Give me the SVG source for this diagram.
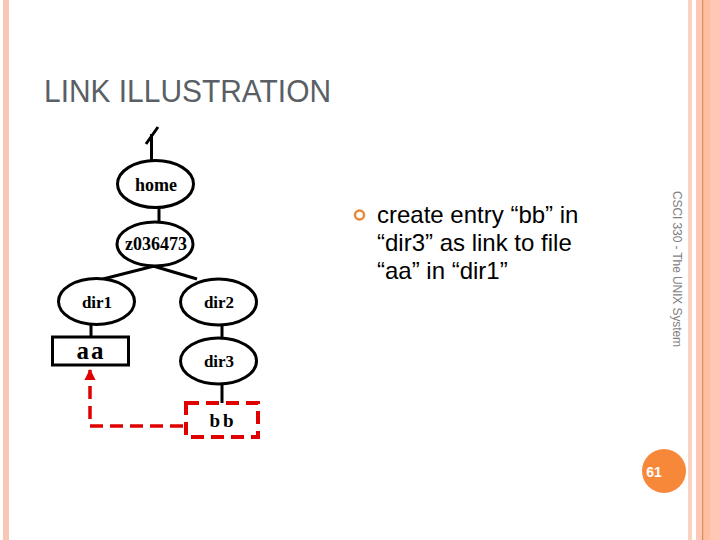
<svg xmlns="http://www.w3.org/2000/svg" width="720" height="540" viewBox="0 0 720 540">
<style>
.node{fill:#fff;stroke:#000;stroke-width:3}
.lbl{font-family:"Liberation Serif","Times New Roman",serif;font-weight:bold;font-size:17px;fill:#000;text-anchor:middle}
.edge{stroke:#000;stroke-width:3;fill:none}
.link{stroke:#E00000;stroke-width:3.5;fill:none;stroke-dasharray:13 7}
</style>
<defs>
<marker id="ah" viewBox="0 0 10 10" refX="9" refY="5" markerWidth="3.2" markerHeight="3.2" orient="auto" markerUnits="strokeWidth">
<path d="M0,0 L10,5 L0,10 z" fill="#E00000"/>
</marker>
</defs>
<rect width="720" height="540" fill="#fff"/>
<!-- borders -->
<rect x="3" y="0" width="6" height="540" fill="#F8C8B4"/>
<rect x="688" y="0" width="4" height="540" fill="#F9D2C0"/>
<rect x="696" y="0" width="24" height="540" fill="#FFC8B6"/>
<rect x="702" y="0" width="8" height="540" fill="#FFBE9F"/>
<rect x="702" y="0" width="1.2" height="540" fill="#D98A60"/>

<text x="44" y="102" font-family="Liberation Sans, Arial, sans-serif" font-size="31" fill="#5A5F66" textLength="287" lengthAdjust="spacingAndGlyphs">LINK ILLUSTRATION</text>

<g id="connectors">
<path class="edge" d="M146,144 L158,127 M151.5,134 L151.5,161"/>
<line class="edge" x1="159" y1="207" x2="159" y2="222"/>
<line class="edge" x1="166" y1="263" x2="103" y2="279"/>
<line class="edge" x1="143" y1="263" x2="197" y2="279"/>
<line class="edge" x1="91" y1="324" x2="91" y2="337"/>
<line class="edge" x1="222" y1="324" x2="222" y2="339"/>
<line class="edge" x1="222" y1="384" x2="222" y2="403"/>
<path class="link" d="M183,426 L90,426 L90,370" marker-end="url(#ah)"/>
</g>

<g id="home"><ellipse class="node" cx="155.5" cy="184" rx="38" ry="23.5"/><text class="lbl" x="156" y="191" style="font-size:18px">home</text></g>
<g id="z036473"><ellipse class="node" cx="155" cy="244" rx="38" ry="22"/><text class="lbl" x="156" y="250" style="font-size:18px">z036473</text></g>
<g id="dir1"><ellipse class="node" cx="96.5" cy="301.5" rx="38" ry="23"/><text class="lbl" x="97" y="308">dir1</text></g>
<g id="dir2"><ellipse class="node" cx="218.5" cy="302" rx="38" ry="23"/><text class="lbl" x="219" y="308">dir2</text></g>
<g id="aa"><rect class="node" x="52.5" y="337" width="76" height="28"/><text class="lbl" x="91" y="359" style="font-size:25px;letter-spacing:2px">aa</text></g>
<g id="dir3"><ellipse class="node" cx="218.5" cy="361" rx="38" ry="23"/><text class="lbl" x="219" y="367">dir3</text></g>
<g id="bb"><rect x="186" y="403" width="72" height="34" fill="#fff" stroke="#E00000" stroke-width="4" stroke-dasharray="13 7"/><text class="lbl" x="223" y="427" style="font-size:19px;letter-spacing:3px">bb</text></g>

<circle cx="359.5" cy="215" r="4.5" fill="none" stroke="#E8883A" stroke-width="2.5"/>
<g font-family="Liberation Sans, Arial, sans-serif" font-size="24" fill="#000">
<text x="377" y="223">create entry “bb” in</text>
<text x="377" y="251">“dir3” as link to file</text>
<text x="377" y="279">“aa” in “dir1”</text>
</g>

<text transform="translate(673,191) rotate(90)" font-family="Liberation Sans, Arial, sans-serif" font-size="12" fill="#7F7F7F" textLength="156">CSCI 330 - The UNIX System</text>

<circle cx="664" cy="471" r="22" fill="#F7883A"/>
<text x="654" y="477" font-family="Liberation Sans, Arial, sans-serif" font-size="14" font-weight="bold" fill="#fff" text-anchor="middle">61</text>
</svg>
